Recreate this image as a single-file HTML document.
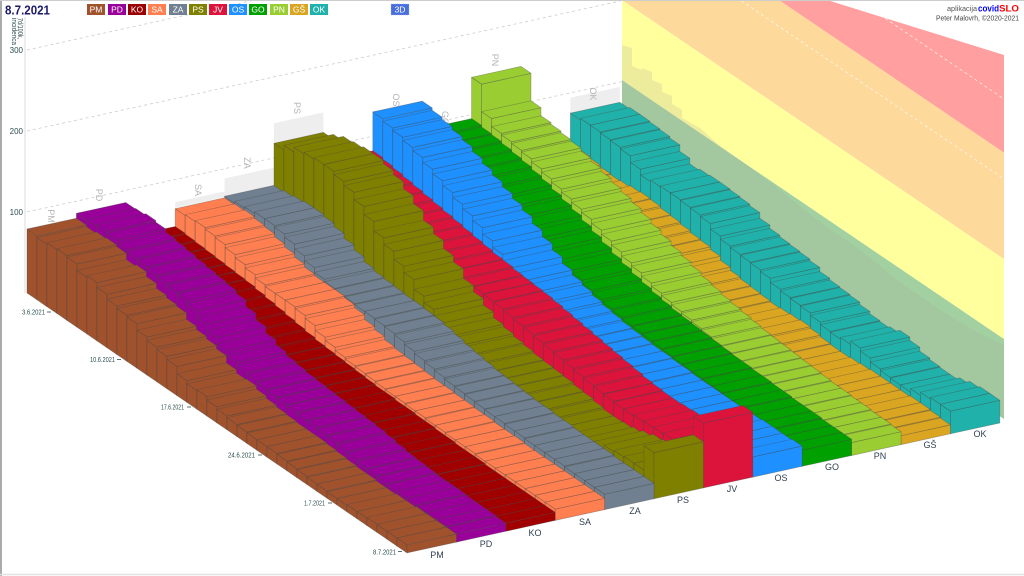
<!DOCTYPE html>
<html><head><meta charset="utf-8"><style>
html,body{margin:0;padding:0;background:#fff;}
svg{display:block;font-family:"Liberation Sans",sans-serif;}
</style></head><body>
<svg id="s" width="1024" height="576" viewBox="0 0 1024 576" xmlns="http://www.w3.org/2000/svg">
<rect x="0" y="0" width="1024" height="576" fill="#fff"/>
<!-- right wall bands -->
<polygon fill="#a2d0a0" points="622,160 1004,419 1004,339 622,80"/>
<polygon fill="#ffff9e" points="622,80 1004,339 1004,259 622,0"/>
<polygon fill="#fdd99b" points="622,0 1004,259 1004,152.6 622,-106.4"/>
<polygon fill="#ff9f9f" points="622,-106.4 1004,152.6 1004,55 827,0 827,-200 622,-200"/>
<!-- ghost overlay on wall -->
<polygon fill="rgba(170,170,150,0.22)" points="622,45 632,48 632,66 642,70 642,68 652,72 652,80 662,84 662,92 672,96 672,104 682,110 682,118 700,128 720,146 740,160 780,190 820,222 860,250 900,282 940,310 980,334 1004,345 1004,419 622,160"/>
<g stroke="#ffffff" stroke-opacity="0.8" stroke-width="0.8" stroke-dasharray="3,3" fill="none">
<line x1="622" y1="-80" x2="1004" y2="179"/>
<line x1="622" y1="-160" x2="1004" y2="99"/>
</g>
<!-- y axis -->
<line x1="25" y1="17" x2="25" y2="293" stroke="#dddddd" stroke-width="1"/>
<g stroke="#cccccc" stroke-width="0.8" stroke-dasharray="3,3" fill="none">
<line x1="27" y1="50" x2="255" y2="0"/>
<line x1="27" y1="131" x2="622" y2="0.6"/>
<line x1="27" y1="212" x2="622" y2="81.6"/>
</g>
<g font-size="8" fill="#2f4f4f" text-anchor="end">
<text x="23" y="53">300</text>
<text x="23" y="134">200</text>
<text x="23" y="215">100</text>
</g>
<g font-size="7" fill="#2f4f4f">
<text transform="translate(18,18) rotate(90)" textLength="21" lengthAdjust="spacingAndGlyphs">7d/100k,</text>
<text transform="translate(12,18) rotate(90)" textLength="27" lengthAdjust="spacingAndGlyphs">incidenca</text>
</g>
<!-- lane plates -->
<g fill="#eeeeee">
<polygon points="175.2,207.9 224.6,197 224.6,191.4 175.2,202.2"/>
<polygon points="224.6,197.9 274,187.1 274,167.7 224.6,178.4"/>
<polygon points="274,143.4 323.4,132.6 323.4,112.4 274,123.2"/>
<polygon points="570.4,113.1 619.8,102.3 619.8,86.9 570.4,97.7"/>
</g>
<!-- back lane labels -->
<g font-size="9" fill="#b4b4b4" text-anchor="middle">
<text transform="translate(51,216) rotate(90)" dy="3">PM</text>
<text transform="translate(99,195) rotate(90)" dy="3">PD</text>
<text transform="translate(198,190) rotate(90)" dy="3">SA</text>
<text transform="translate(247,163) rotate(90)" dy="3">ZA</text>
<text transform="translate(297,108) rotate(90)" dy="3">PS</text>
<text transform="translate(396,100) rotate(90)" dy="3">OS</text>
<text transform="translate(445,118) rotate(90)" dy="3">GO</text>
<text transform="translate(495,60) rotate(90)" dy="3">PN</text>
<text transform="translate(593,94) rotate(90)" dy="3">OK</text>
</g>
<!-- bars -->
<g id="bars" stroke="rgba(70,70,70,0.4)" stroke-width="0.7" stroke-linejoin="round"></g>
<!-- date labels -->
<g font-size="7" fill="#2f4f4f" text-anchor="end">
<text x="45" y="314.5" textLength="23" lengthAdjust="spacingAndGlyphs">3.6.2021</text>
<text x="115" y="362" textLength="25" lengthAdjust="spacingAndGlyphs">10.6.2021</text>
<text x="184" y="409.5" textLength="23" lengthAdjust="spacingAndGlyphs">17.6.2021</text>
<text x="255" y="457.5" textLength="27" lengthAdjust="spacingAndGlyphs">24.6.2021</text>
<text x="325" y="505.5" textLength="21" lengthAdjust="spacingAndGlyphs">1.7.2021</text>
<text x="396" y="554.5" textLength="23" lengthAdjust="spacingAndGlyphs">8.7.2021</text>
</g>
<g stroke="#2f4f4f" stroke-width="0.8">
<line x1="47" y1="312" x2="51" y2="312"/>
<line x1="117" y1="359.5" x2="121" y2="359.5"/>
<line x1="187" y1="407" x2="191" y2="407"/>
<line x1="258" y1="455" x2="262" y2="455"/>
<line x1="328" y1="503" x2="332" y2="503"/>
<line x1="398" y1="551.5" x2="402" y2="551.5"/>
</g>
<!-- region labels front -->
<g font-size="9" fill="#2f3f4f" text-anchor="middle">
<text x="437" y="558">PM</text>
<text x="486" y="547">PD</text>
<text x="535" y="536">KO</text>
<text x="585" y="525">SA</text>
<text x="635" y="514">ZA</text>
<text x="683" y="503">PS</text>
<text x="732" y="492">JV</text>
<text x="781" y="481">OS</text>
<text x="832" y="470">GO</text>
<text x="880" y="459">PN</text>
<text x="930" y="448">GŠ</text>
<text x="980" y="437">OK</text>
</g>
<!-- header -->
<text x="5" y="14.5" font-size="12.5" font-weight="bold" fill="#1a1a6b" textLength="45" lengthAdjust="spacingAndGlyphs">8.7.2021</text>
<g font-size="8.5" fill="#fff" text-anchor="middle">
<rect x="87" y="4" width="18" height="11" fill="#a0522d"/><text x="96" y="12.7">PM</text>
<rect x="108" y="4" width="18" height="11" fill="#990099"/><text x="117" y="12.7">PD</text>
<rect x="128" y="4" width="18" height="11" fill="#990000"/><text x="137" y="12.7">KO</text>
<rect x="148" y="4" width="18" height="11" fill="#ff7f50"/><text x="157" y="12.7">SA</text>
<rect x="169" y="4" width="18" height="11" fill="#708090"/><text x="178" y="12.7">ZA</text>
<rect x="189" y="4" width="18" height="11" fill="#808000"/><text x="198" y="12.7">PS</text>
<rect x="209" y="4" width="18" height="11" fill="#dc143c"/><text x="218" y="12.7">JV</text>
<rect x="229" y="4" width="18" height="11" fill="#1e90ff"/><text x="238" y="12.7">OS</text>
<rect x="249" y="4" width="18" height="11" fill="#00a000"/><text x="258" y="12.7">GO</text>
<rect x="270" y="4" width="18" height="11" fill="#9acd32"/><text x="279" y="12.7">PN</text>
<rect x="290" y="4" width="18" height="11" fill="#daa520"/><text x="299" y="12.7">GŠ</text>
<rect x="310" y="4" width="18" height="11" fill="#20b2aa"/><text x="319" y="12.7">OK</text>
<rect x="391" y="4" width="18" height="11" fill="#4a6fdc" stroke="#9fb3ff" stroke-width="0.6" stroke-dasharray="1,1"/><text x="400" y="12.7">3D</text>
</g>
<text x="977" y="11" font-size="7" fill="#555" text-anchor="end" textLength="30" lengthAdjust="spacingAndGlyphs">aplikacija</text>
<text x="978" y="11.5" font-size="9.5" font-weight="bold" fill="#0000ff" textLength="21" lengthAdjust="spacingAndGlyphs">covid</text>
<text x="999" y="11.5" font-size="9.5" font-weight="bold" fill="#ff0000" textLength="20" lengthAdjust="spacingAndGlyphs">SLO</text>
<text x="1019" y="20.5" font-size="7" fill="#444" text-anchor="end" textLength="83" lengthAdjust="spacingAndGlyphs">Peter Malovrh, ©2020-2021</text>
<!-- frame -->
<line x1="1" y1="0" x2="1" y2="576" stroke="#aaaaaa" stroke-width="2"/>
<line x1="0" y1="0.5" x2="1024" y2="0.5" stroke="#cccccc" stroke-width="1"/>
<line x1="0" y1="574.5" x2="1024" y2="574.5" stroke="#e2e2e2" stroke-width="1.5"/>
</svg>
<script>
(function(){
var C=['#a0522d','#990099','#a00000','#ff7f50','#708090','#808000','#dc143c','#1e90ff','#00a000','#9acd32','#daa520','#20b2aa'];
var V=[
[79,77,79,80,78,70,72,66,60,57,55,47,43,40,36,27,23,24,20,17,15,14,13,13,13,12,11,10,9,9,8,8,9,9,10,10,10,10],
[85,86,88,86,82,80,78,76,74,72,70,66,58,50,42,36,32,30,28,27,26,25,24,23,22,21,19,17,15,14,13,12,12,12,11,11,11,10],
[42,41,40,39,38,37,36,35,33,31,29,27,25,23,21,20,19,18,17,16,15,15,14,14,13,13,12,12,11,11,11,10,10,10,10,10,10,10],
[64,65,66,64,62,58,54,50,46,44,44,44,42,38,32,28,24,22,21,20,19,18,18,17,17,16,16,15,15,15,14,14,14,14,14,14,14,14],
[66,68,70,72,72,70,66,60,54,48,45,44,43,42,42,41,40,38,35,32,30,28,26,25,24,23,22,22,21,21,20,20,20,20,19,19,19,19],
[118,124,130,132,134,134,130,125,116,106,94,86,76,68,56,48,40,33,30,27,25,23,22,21,20,18,17,15,13,13,14,16,20,24,26,27,27,57],
[82,80,78,76,74,72,70,68,66,64,62,60,58,57,55,54,53,52,50,48,46,44,42,40,38,36,34,32,31,30,30,31,32,33,34,35,36,80],
[130,127,124,120,116,110,104,98,92,86,80,72,64,56,48,42,38,34,31,29,27,26,25,24,24,23,23,22,22,22,22,22,23,23,24,24,24,25],
[95,93,92,90,88,86,83,80,76,72,68,63,58,53,48,44,40,37,34,32,30,29,28,27,26,25,24,24,23,23,22,22,21,21,21,20,20,20],
[146,112,102,100,98,96,92,88,84,80,76,72,67,62,57,52,48,44,40,37,34,32,30,28,26,25,24,23,22,21,20,19,19,18,18,17,17,16],
[40,38,36,34,33,34,36,37,36,34,33,31,29,28,25,20,16,14,13,12,11,12,13,14,12,10,9,9,10,11,12,12,12,12,13,13,12,11],
[75,77,77,76,75,73,65,58,60,61,61,60,59,57,50,46,44,43,42,40,35,33,32,31,28,25,24,26,30,26,21,19,18,18,22,26,28,28]
];
function P(r,d,z){return (27+49.4*r+10*d).toFixed(1)+','+(293-10.83*r+6.84*d-0.81*z).toFixed(1);}
var h='';
for(var r=11;r>=0;r--){for(var d=0;d<38;d++){var z=V[r][d],c=C[r];
h+='<polygon fill="'+c+'" points="'+P(r,d,0)+' '+P(r,d+1,0)+' '+P(r,d+1,z)+' '+P(r,d,z)+'"/>';
h+='<polygon fill="'+c+'" points="'+P(r,d+1,0)+' '+P(r+1,d+1,0)+' '+P(r+1,d+1,z)+' '+P(r,d+1,z)+'"/>';
h+='<polygon fill="'+c+'" points="'+P(r,d,z)+' '+P(r+1,d,z)+' '+P(r+1,d+1,z)+' '+P(r,d+1,z)+'"/>';
}}
document.getElementById('bars').innerHTML=h;
})();
</script>
</body></html>
